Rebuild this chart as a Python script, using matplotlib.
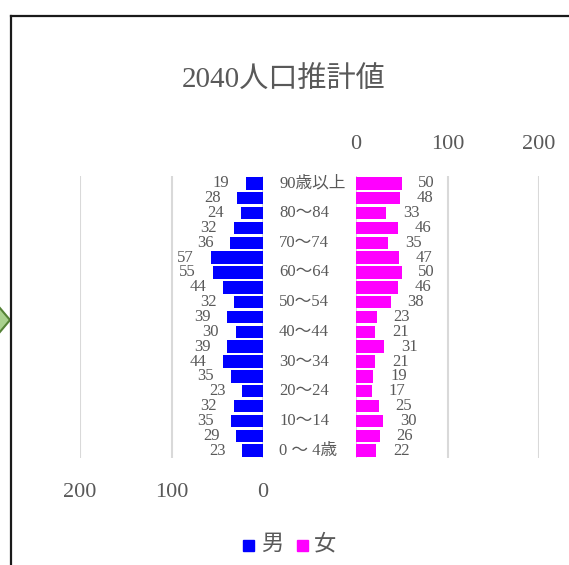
import matplotlib
matplotlib.use("Agg")
import matplotlib.pyplot as plt
from matplotlib.lines import Line2D
from matplotlib.patches import Polygon, Rectangle

plt.rcParams['font.family'] = ['Liberation Serif', 'Noto Sans CJK JP']

# age groups from youngest to oldest
ages = ['0 ～ 4歳', '5～9', '10～14', '15～19', '20～24', '25～29', '30～34',
        '35～39', '40～44', '45～49', '50～54', '55～59', '60～64', '65～69',
        '70～74', '75～79', '80～84', '85～89', '90歳以上']
male = [23, 29, 35, 32, 23, 35, 44, 39, 30, 39, 32, 44, 55, 57, 36, 32, 24, 28, 19]
female = [22, 26, 30, 25, 17, 19, 21, 31, 21, 23, 38, 46, 50, 47, 35, 46, 33, 48, 50]
ticks = [0, 100, 200]

TEXT = '#595959'
GRID = '#d9d9d9'
W, H = 569, 565


def fx(px):
    return px / W


def fy(py):
    return 1 - py / H


fig = plt.figure(figsize=(W / 100, H / 100), dpi=100)

# green marker peeking in from the left edge and the chart frame
fig.add_artist(Polygon([(fx(-6), fy(301)), (fx(10), fy(320)), (fx(-6), fy(339))],
                       closed=True, facecolor='#a9d18e', edgecolor='#548235',
                       linewidth=1.5, transform=fig.transFigure))
fig.add_artist(Line2D([fx(11), fx(11)], [fy(16), 0], color='#1a1a1a', lw=1.6,
                      transform=fig.transFigure))
fig.add_artist(Line2D([fx(11), 1], [fy(16), fy(16)], color='#1a1a1a', lw=1.6,
                      transform=fig.transFigure))

bottom, top = fy(458), fy(176)
ax_m = fig.add_axes([fx(80), bottom, fx(263) - fx(80), top - bottom])
ax_f = fig.add_axes([fx(356), bottom, fx(539) - fx(356), top - bottom])

y = list(range(len(ages)))

for ax, vals, color, sign in [(ax_m, male, '#0000ff', -1), (ax_f, female, '#ff00ff', 1)]:
    ax.barh(y, vals, height=0.84, color=color, zorder=2)
    ax.set_xlim(0, 200)
    ax.set_ylim(-0.5, len(ages) - 0.5)
    ax.set_xticks(ticks)
    ax.set_yticks([])
    ax.grid(axis='x', color=GRID, lw=1.5, zorder=0)
    ax.tick_params(length=0, labelsize=16, labelcolor=TEXT)
    for s in ax.spines.values():
        s.set_visible(False)
    for i, v in enumerate(vals):
        ax.annotate(str(v), xy=(v, i), xytext=(sign * 12, 0), textcoords='offset points',
                    ha='left' if sign > 0 else 'right', va='center',
                    fontsize=12, color=TEXT)

ax_m.invert_xaxis()
ax_m.tick_params(axis='x', pad=18)
ax_f.xaxis.tick_top()
ax_f.tick_params(axis='x', pad=16)

# age labels between the two halves, every other group
for i in range(0, len(ages), 2):
    ypos = ax_m.transData.transform((0, i))[1] / fig.bbox.height
    fig.text(fx(279), ypos, ages[i], ha='left', va='center', fontsize=12, color=TEXT)

fig.text(fx(284), fy(80), '2040人口推計値', ha='center', va='center',
         fontsize=21, color=TEXT)

# legend
fig.add_artist(Rectangle((fx(243), fy(551)), fx(11), 11 / H, color='#0000ff',
                         transform=fig.transFigure))
fig.text(fx(261), fy(545), '男', ha='left', va='center', fontsize=16, color=TEXT)
fig.add_artist(Rectangle((fx(297), fy(551)), fx(11), 11 / H, color='#ff00ff',
                         transform=fig.transFigure))
fig.text(fx(314), fy(545), '女', ha='left', va='center', fontsize=16, color=TEXT)

fig.savefig('out.png', dpi=100)
